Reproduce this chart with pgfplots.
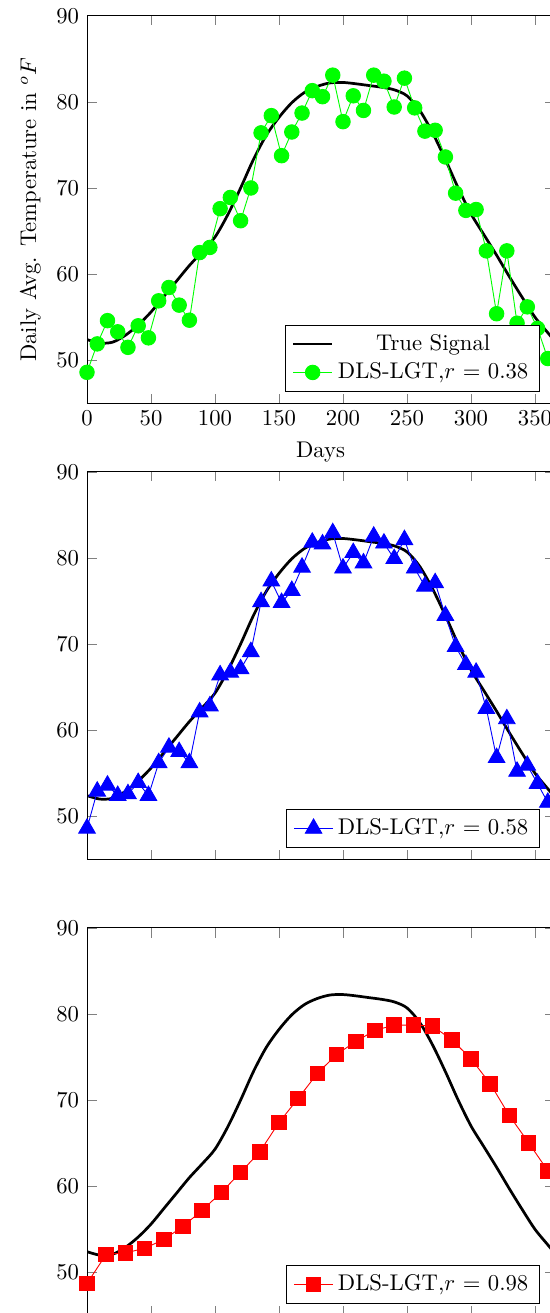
\documentclass[border=0pt]{standalone}
\usepackage{pgfplots}
\pgfplotsset{compat=1.18}

\pgfplotstableread{
x y
0 52.4
10 52.0
20 52.1
30 52.9
40 54.1
50 55.6
60 57.4
70 59.2
80 61.0
90 62.6
100 64.3
110 66.9
120 70.0
130 73.3
140 76.1
150 78.2
160 79.9
170 81.1
180 81.8
190 82.2
200 82.25
210 82.1
220 81.9
230 81.7
240 81.4
250 80.7
260 79.0
270 76.4
280 73.3
290 70.0
300 67.0
310 64.6
320 62.2
330 59.7
340 57.3
350 55.0
360 53.2
365 52.3
}\truesig

\pgfplotstableread{
x y
0 48.6
8 51.9
16 54.6
24 53.3
32 51.5
40 54.0
48 52.6
56 56.9
64 58.45
72 56.4
80 54.65
88 62.5
96 63.1
104 67.6
112 68.9
120 66.2
128 70.0
136 76.4
144 78.4
152 73.75
160 76.5
168 78.7
176 81.3
184 80.6
192 83.1
200 77.7
208 80.7
216 79.0
224 83.1
232 82.4
240 79.4
248 82.75
256 79.3
264 76.6
272 76.7
280 73.6
288 69.4
296 67.4
304 67.5
312 62.7
320 55.4
328 62.7
336 54.3
344 56.2
352 53.7
360 50.2
}\greendata

\pgfplotstableread{
x y
0 48.6
8 52.9
16 53.6
24 52.4
32 52.6
40 53.9
48 52.4
56 56.2
64 58.0
72 57.5
80 56.2
88 62.1
96 62.8
104 66.4
112 66.7
120 67.1
128 69.1
136 74.9
144 77.3
152 74.8
160 76.2
168 78.9
176 81.8
184 81.6
192 82.9
200 78.8
208 80.6
216 79.4
224 82.5
232 81.7
240 79.9
248 82.1
256 78.8
264 76.7
272 77.1
280 73.3
288 69.7
296 67.6
304 66.7
312 62.5
320 56.8
328 61.3
336 55.2
344 55.9
352 53.8
360 51.6
}\bluedata

\pgfplotstableread{
x y
0 48.7
15 52.1
30 52.25
45 52.8
60 53.8
75 55.35
90 57.2
105 59.3
120 61.6
135 64.0
150 67.4
165 70.2
180 73.1
195 75.3
210 76.8
225 78.1
240 78.7
255 78.7
270 78.6
285 77.0
300 74.8
315 71.9
330 68.2
345 65.05
360 61.8
}\reddata

\pgfplotsset{
  myaxis/.style={
    scale only axis,
    width=205.8pt, height=170.75pt,
    xmin=0, xmax=365, ymin=45, ymax=90,
    xtick={0,50,...,350},
    ytick={50,60,70,80,90},
    legend pos=south east,
    legend cell align=center,
  }
}

\begin{document}
\begin{tikzpicture}
\begin{axis}[myaxis, at={(0pt,0pt)}, anchor=north west,
  xlabel={Days}, ylabel={Daily Avg. Temperature in $^oF$}]
\addplot[black, very thick, smooth] table {\truesig};
\addlegendentry{True Signal}
\addplot[green, mark=*, mark size=3.2pt, mark options={fill=green, draw=green}] table {\greendata};
\addlegendentry{DLS-LGT,$r$ = 0.38}
\end{axis}

\begin{axis}[myaxis, at={(0pt,-200.9pt)}, anchor=north west, xticklabels={}]
\addplot[black, very thick, smooth, forget plot] table {\truesig};
\addplot[blue, mark=triangle*, mark size=4.2pt, mark options={fill=blue, draw=blue}] table {\bluedata};
\addlegendentry{DLS-LGT,$r$ = 0.58}
\end{axis}

\begin{axis}[myaxis, at={(0pt,-401.8pt)}, anchor=north west, xticklabels={}]
\addplot[black, very thick, smooth, forget plot] table {\truesig};
\addplot[red, mark=square*, mark size=3.2pt, mark options={fill=red, draw=red}] table {\reddata};
\addlegendentry{DLS-LGT,$r$ = 0.98}
\end{axis}

\pgfresetboundingbox
\path[use as bounding box] (-38.33pt,6.92pt) rectangle (203.96pt,-571.49pt);
\end{tikzpicture}
\end{document}
